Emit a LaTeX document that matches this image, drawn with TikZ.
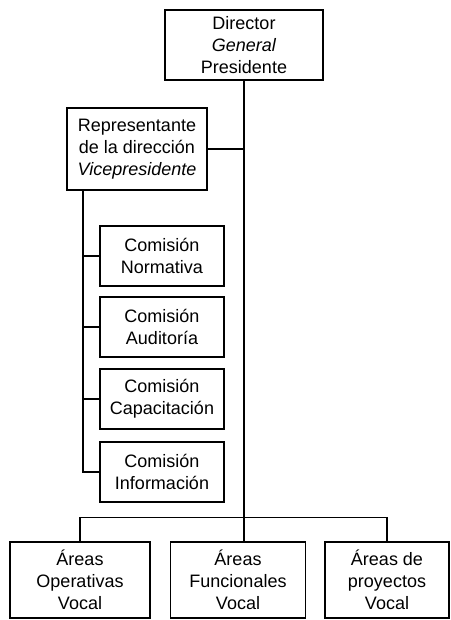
\documentclass[tikz,border=0pt]{standalone}
\usepackage{fontspec}
\setmainfont{Liberation Sans}
\usetikzlibrary{positioning}

\begin{document}
\begin{tikzpicture}[x=1pt, y=-1pt, font=\fontsize{18}{22}\selectfont,
  box/.style={draw, rectangle, line width=1.1pt, align=center, inner sep=0pt},
  link/.style={line width=1.1pt}]
\useasboundingbox (0,0) rectangle (450,620);

% Director and representative
\node[box, minimum width=158, minimum height=70] (dir) at (244,45) {Director\\\textit{General}\\Presidente};
\node[box, minimum width=140, minimum height=82] (rep) at (137,149) {Representante\\de la dirección\\\textit{Vicepresidente}};

% Commissions
\foreach \i/\y/\name in {1/256/Normativa, 2/327/Auditoría, 3/399/Capacitación, 4/472/Información} {
   \node[box, minimum width=124, minimum height=60] (com\i) at (162,\y) {Comisión\\\name};
}

% Areas (vocales)
\node[box, minimum width=140, minimum height=76] (ops) at (80,580) {Áreas\\Operativas\\Vocal};
\node[box, minimum width=135, minimum height=76] (fun) at (238,580) {Áreas\\Funcionales\\Vocal};
\node[box, minimum width=124, minimum height=76] (pro) at (387,580) {Áreas de\\proyectos\\Vocal};

% Connections
\draw[link] (dir.south) -- (dir.south |- fun.north);
\draw[link] (rep.east) -- (rep.east -| dir.south);
\draw[link] (ops.north) -- ++(0,-24) -| (pro.north);
\coordinate (spine) at ([xshift=-54pt]rep.south);
\draw[link] (spine) |- (com4.west);
\foreach \i in {1,2,3} {
   \draw[link] (com\i.west) -- (com\i.west -| spine);
}
\end{tikzpicture}
\end{document}
